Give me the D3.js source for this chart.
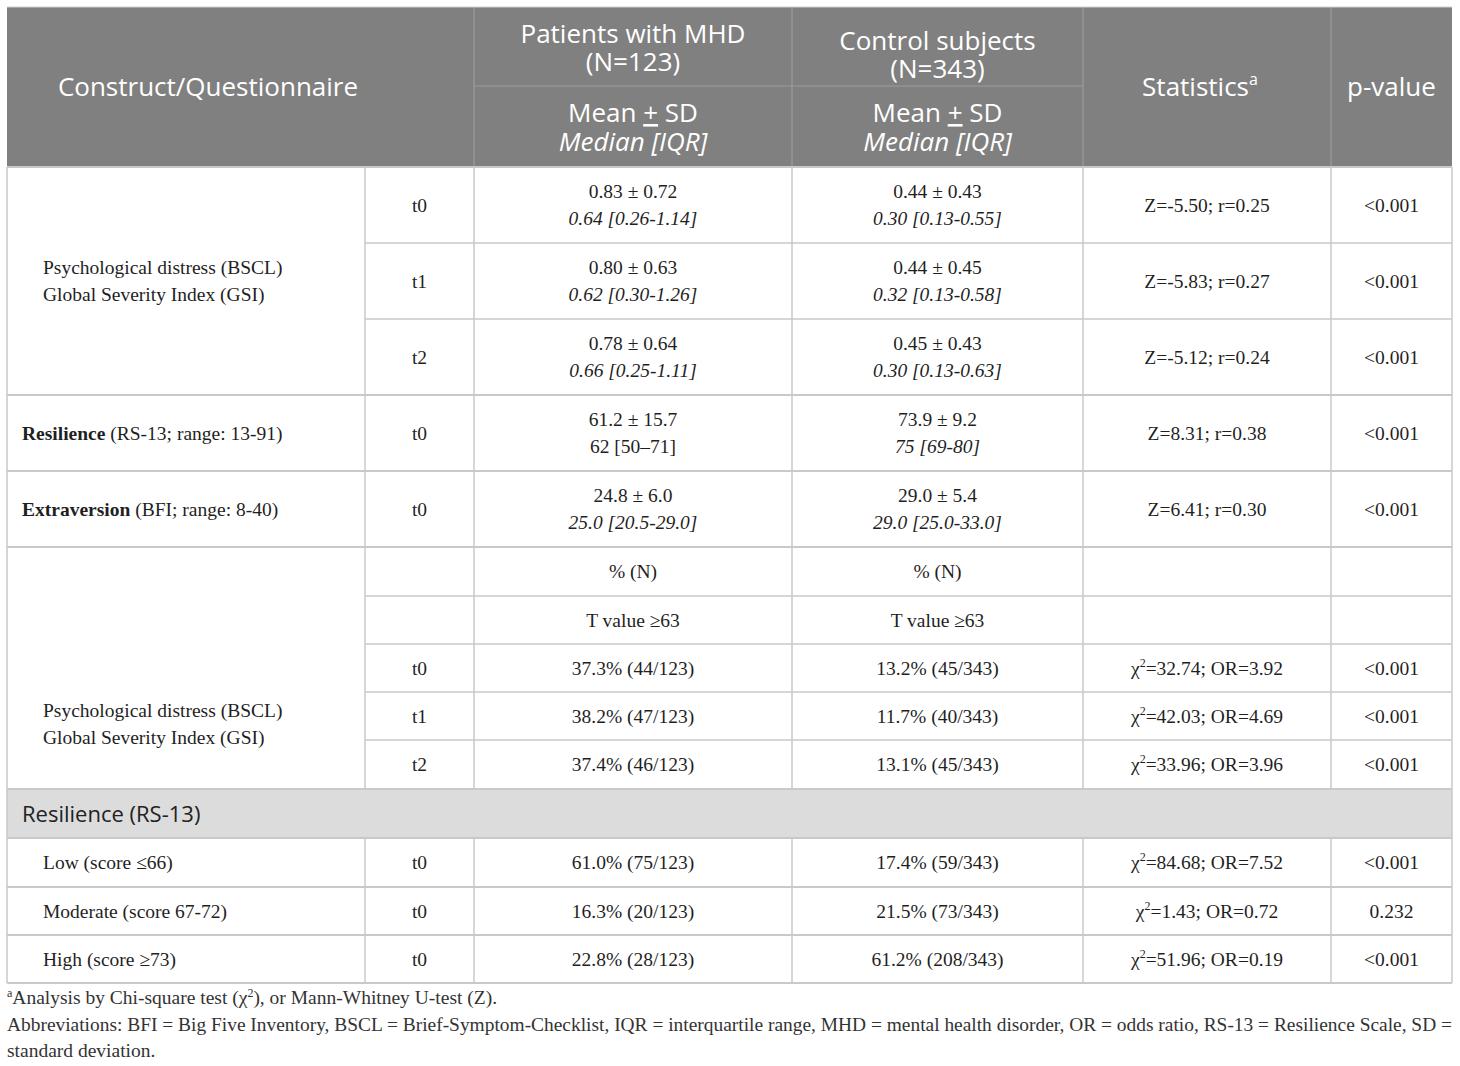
<!DOCTYPE html>
<html><head><meta charset="utf-8">
<script src="https://cdn.jsdelivr.net/npm/d3@7/dist/d3.min.js"></script>
<style>
html,body{margin:0;padding:0;background:#fff;}
svg{display:block;}
</style></head>
<body><svg id="t" width="1460" height="1066"></svg>
<script>
// ---------- DATA ----------
const headerGroups = ["Patients with MHD", "Control subjects"];
const headerN = ["(N=123)", "(N=343)"];
const bsclLabel = ["Psychological distress (BSCL)", "Global Severity Index (GSI)"];

const contTime = ["t0", "t1", "t2", "t0", "t0"];
const contLabelBold = ["", "", "", "Resilience", "Extraversion"];
const contLabelRest = ["", "", "", " (RS-13; range: 13-91)", " (BFI; range: 8-40)"];
const contPatMean = ["0.83 ± 0.72", "0.80 ± 0.63", "0.78 ± 0.64", "61.2 ± 15.7", "24.8 ± 6.0"];
const contPatMedian = ["0.64 [0.26-1.14]", "0.62 [0.30-1.26]", "0.66 [0.25-1.11]", "62 [50–71]", "25.0 [20.5-29.0]"];
const contCtlMean = ["0.44 ± 0.43", "0.44 ± 0.45", "0.45 ± 0.43", "73.9 ± 9.2", "29.0 ± 5.4"];
const contCtlMedian = ["0.30 [0.13-0.55]", "0.32 [0.13-0.58]", "0.30 [0.13-0.63]", "75 [69-80]", "29.0 [25.0-33.0]"];
const contStats = ["Z=-5.50; r=0.25", "Z=-5.83; r=0.27", "Z=-5.12; r=0.24", "Z=8.31; r=0.38", "Z=6.41; r=0.30"];
const contP = ["<0.001", "<0.001", "<0.001", "<0.001", "<0.001"];

const catSubHeads = ["% (N)", "T value ≥63"];
const catTime = ["t0", "t1", "t2"];
const catPat = ["37.3% (44/123)", "38.2% (47/123)", "37.4% (46/123)"];
const catCtl = ["13.2% (45/343)", "11.7% (40/343)", "13.1% (45/343)"];
const catChi = ["32.74", "42.03", "33.96"];
const catOR = ["3.92", "4.69", "3.96"];
const catP = ["<0.001", "<0.001", "<0.001"];

const sectionTitle = "Resilience (RS-13)";
const resLevels = ["Low (score ≤66)", "Moderate (score 67-72)", "High (score ≥73)"];
const resTime = ["t0", "t0", "t0"];
const resPat = ["61.0% (75/123)", "16.3% (20/123)", "22.8% (28/123)"];
const resCtl = ["17.4% (59/343)", "21.5% (73/343)", "61.2% (208/343)"];
const resChi = ["84.68", "1.43", "51.96"];
const resOR = ["7.52", "0.72", "0.19"];
const resP = ["<0.001", "0.232", "<0.001"];

const footAbbrev = "Abbreviations: BFI = Big Five Inventory, BSCL = Brief-Symptom-Checklist, IQR = interquartile range, MHD = mental health disorder, OR = odds ratio, RS-13 = Resilience Scale, SD =";
const footAbbrev2 = "standard deviation.";

// ---------- LAYOUT ----------
const svg = d3.select("#t");
const colEdges = [7, 365, 474, 792, 1083, 1331, 1452];
const cx = i => (colEdges[i] + colEdges[i + 1]) / 2;
const headTop = 7, headBot = 167, headMid = 86;
const rowHeights = [76, 76, 76, 76, 76, 49, 48, 48, 48, 49, 49, 49, 48, 48];
const rowTop = [headBot];
rowHeights.forEach((h, i) => rowTop.push(rowTop[i] + h));
const rc = i => rowTop[i] + rowHeights[i] / 2;

const SERIF = "'Liberation Serif','Times New Roman',serif";
const SANS = "'Open Sans','Noto Sans',sans-serif";
const TXT = "#1f1f1f";
const GRID = "#c9c9c9";
const FS = 19.5;   // body font size
const HS = 26;     // header font size

// header background
svg.append("rect").attr("x", colEdges[0]).attr("y", headTop)
  .attr("width", colEdges[6] - colEdges[0]).attr("height", headBot - headTop).attr("fill", "#808080");
// section row background
svg.append("rect").attr("x", colEdges[0]).attr("y", rowTop[10])
  .attr("width", colEdges[6] - colEdges[0]).attr("height", rowHeights[10]).attr("fill", "#dcdcdc");

const line = (x1, y1, x2, y2, c, w) => svg.append("line").attr("x1", x1).attr("y1", y1).attr("x2", x2).attr("y2", y2)
  .attr("stroke", c || GRID).attr("stroke-width", w || 1.5);

// header grid
[2, 3, 4, 5].forEach(i => line(colEdges[i], headTop, colEdges[i], headBot, "#9c9c9c", 1.2));
line(colEdges[2], headMid, colEdges[4], headMid, "#9c9c9c", 1.2);
line(colEdges[0], headTop, colEdges[6], headTop, "#d0d0d0", 1.2);

// body grid
colEdges.forEach(x => {
  line(x, headBot, x, rowTop[10]);
  line(x, rowTop[11], x, rowTop[14]);
});
line(colEdges[0], rowTop[10], colEdges[0], rowTop[11]);
line(colEdges[6], rowTop[10], colEdges[6], rowTop[11]);
const fullRows = [0, 3, 4, 5, 10, 11, 12, 13, 14];
const partialRows = [1, 2, 6, 7, 8, 9];
fullRows.forEach(i => line(colEdges[0], rowTop[i], colEdges[6], rowTop[i], GRID, 2));
partialRows.forEach(i => line(colEdges[1], rowTop[i], colEdges[6], rowTop[i], GRID, 1.5));

// ---------- TEXT HELPERS ----------
function txt(x, y, s, opt) {
  opt = opt || {};
  return svg.append("text").attr("x", x).attr("y", y)
    .attr("text-anchor", opt.anchor || "middle")
    .attr("font-family", opt.family || SERIF)
    .attr("font-size", opt.size || FS)
    .attr("font-style", opt.italic ? "italic" : "normal")
    .attr("font-weight", opt.bold ? "bold" : "normal")
    .attr("fill", opt.fill || TXT)
    .text(s);
}
function chiText(x, y, chi, or) {
  const t = svg.append("text").attr("x", x).attr("y", y).attr("text-anchor", "middle")
    .attr("font-family", SERIF).attr("font-size", FS).attr("fill", TXT);
  t.append("tspan").text("χ");
  t.append("tspan").attr("font-size", 12).attr("dy", -8).text("2");
  t.append("tspan").attr("dy", 8).text("=" + chi + "; OR=" + or);
}

// ---------- HEADER TEXT ----------
const W = "#ffffff";
txt(208, 96, "Construct/Questionnaire", {family: SANS, size: HS, fill: W});
txt(cx(2), 43, headerGroups[0], {family: SANS, size: HS, fill: W});
txt(cx(2), 71, headerN[0], {family: SANS, size: HS, fill: W});
txt(cx(3), 50, headerGroups[1], {family: SANS, size: HS, fill: W});
txt(cx(3), 78, headerN[1], {family: SANS, size: HS, fill: W});
[2, 3].forEach(i => {
  const t = svg.append("text").attr("x", cx(i)).attr("y", 122).attr("text-anchor", "middle")
    .attr("font-family", SANS).attr("font-size", HS).attr("fill", W);
  t.append("tspan").text("Mean ");
  t.append("tspan").attr("text-decoration", "underline").text("+");
  t.append("tspan").text(" SD");
  txt(cx(i), 151, "Median [IQR]", {family: SANS, size: HS, fill: W, italic: true});
});
{
  const t = svg.append("text").attr("x", 1200).attr("y", 96).attr("text-anchor", "middle")
    .attr("font-family", SANS).attr("font-size", HS).attr("fill", W);
  t.append("tspan").text("Statistics");
  t.append("tspan").attr("font-size", 16).attr("dy", -11).text("a");
}
txt(cx(5), 96, "p-value", {family: SANS, size: HS, fill: W});

// ---------- CONTINUOUS ROWS ----------
const off = 6.5, half = 13.5;
txt(43, rowTop[1] + 31, bsclLabel[0], {anchor: "start"});
txt(43, rowTop[1] + 58, bsclLabel[1], {anchor: "start"});
contTime.forEach((tp, i) => {
  const y = rc(i);
  if (contLabelBold[i]) {
    const t = svg.append("text").attr("x", 22).attr("y", y + off).attr("font-family", SERIF)
      .attr("font-size", FS).attr("fill", TXT);
    t.append("tspan").attr("font-weight", "bold").text(contLabelBold[i]);
    t.append("tspan").text(contLabelRest[i]);
  }
  txt(cx(1), y + off, tp);
  txt(cx(2), y - half + off, contPatMean[i]);
  txt(cx(2), y + half + off, contPatMedian[i], {italic: i !== 3});
  txt(cx(3), y - half + off, contCtlMean[i]);
  txt(cx(3), y + half + off, contCtlMedian[i], {italic: true});
  txt(cx(4), y + off, contStats[i]);
  txt(cx(5), y + off, contP[i]);
});

// ---------- CATEGORICAL GSI ROWS ----------
catSubHeads.forEach((s, k) => {
  txt(cx(2), rc(5 + k) + off, s);
  txt(cx(3), rc(5 + k) + off, s);
});
txt(43, 717, bsclLabel[0], {anchor: "start"});
txt(43, 744, bsclLabel[1], {anchor: "start"});
catTime.forEach((tp, k) => {
  const y = rc(7 + k) + off;
  txt(cx(1), y, tp);
  txt(cx(2), y, catPat[k]);
  txt(cx(3), y, catCtl[k]);
  chiText(cx(4), y, catChi[k], catOR[k]);
  txt(cx(5), y, catP[k]);
});

// ---------- SECTION ----------
txt(22, rc(10) + 8, sectionTitle, {anchor: "start", family: SANS, size: 22, fill: "#222"});
resLevels.forEach((lv, k) => {
  const y = rc(11 + k) + off;
  txt(43, y, lv, {anchor: "start"});
  txt(cx(1), y, resTime[k]);
  txt(cx(2), y, resPat[k]);
  txt(cx(3), y, resCtl[k]);
  chiText(cx(4), y, resChi[k], resOR[k]);
  txt(cx(5), y, resP[k]);
});

// ---------- FOOTNOTES ----------
const FF = 19.5;
{
  const t = svg.append("text").attr("x", 7).attr("y", 1004).attr("font-family", SERIF)
    .attr("font-size", FF).attr("fill", "#333");
  t.append("tspan").attr("font-size", 12).attr("dy", -7).text("a");
  t.append("tspan").attr("dy", 7).text("Analysis by Chi-square test (χ");
  t.append("tspan").attr("font-size", 12).attr("dy", -7).text("2");
  t.append("tspan").attr("dy", 7).text("), or Mann-Whitney U-test (Z).");
}
svg.append("text").attr("x", 7).attr("y", 1031).attr("font-family", SERIF).attr("font-size", 19)
  .attr("fill", "#333").attr("textLength", 1445).attr("lengthAdjust", "spacingAndGlyphs").text(footAbbrev);
txt(7, 1057, footAbbrev2, {anchor: "start", size: FF, fill: "#333"});
</script></body></html>
